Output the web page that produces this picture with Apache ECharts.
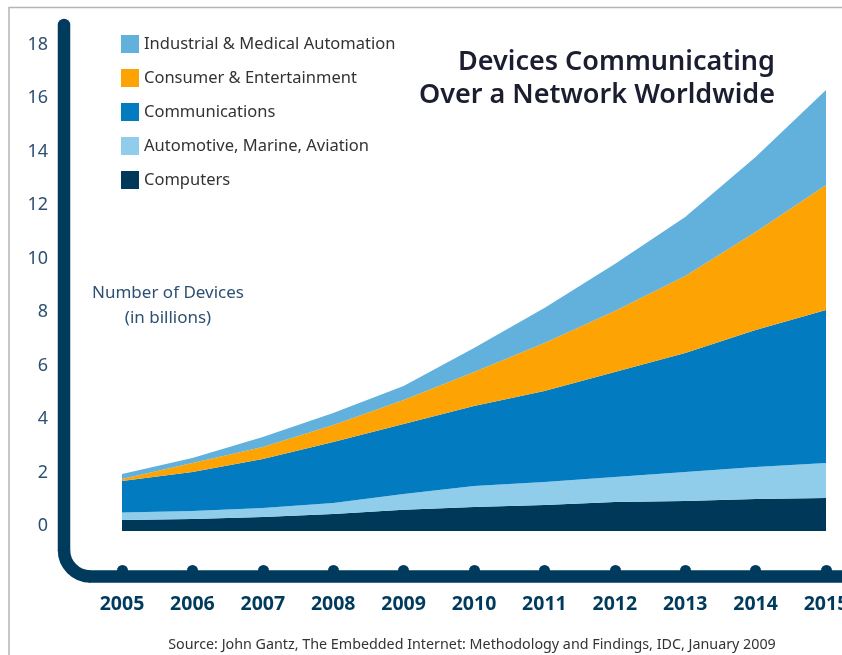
<!DOCTYPE html>
<html>
<head>
<meta charset="utf-8">
<script src="https://cdn.jsdelivr.net/npm/echarts@6/dist/echarts.min.js"></script>
<style>
  html, body { margin: 0; padding: 0; background: #fff; }
  #chart { width: 842px; height: 655px; }
</style>
</head>
<body>
<div id="chart"></div>
<script>
// Years on the horizontal axis
const years = ['2005', '2006', '2007', '2008', '2009', '2010', '2011', '2012', '2013', '2014', '2015'];

// Devices per segment, billions (stacked bottom to top)
const computers     = [0.41, 0.45, 0.52, 0.64, 0.79, 0.90, 0.97, 1.08, 1.12, 1.20, 1.23];
const automotive    = [0.28, 0.30, 0.34, 0.41, 0.59, 0.78, 0.86, 0.94, 1.09, 1.19, 1.31];
const communications= [1.18, 1.46, 1.83, 2.28, 2.62, 2.99, 3.40, 3.92, 4.44, 5.12, 5.72];
const consumer      = [0.07, 0.33, 0.45, 0.63, 0.90, 1.27, 1.80, 2.28, 2.88, 3.67, 4.67];
const industrial    = [0.19, 0.19, 0.37, 0.45, 0.52, 0.90, 1.31, 1.76, 2.21, 2.80, 3.56];

// Value axis ticks
const yMin = -2, yMax = 18, yStep = 2;

const names = {
  industrial: 'Industrial & Medical Automation',
  consumer: 'Consumer & Entertainment',
  communications: 'Communications',
  automotive: 'Automotive, Marine, Aviation',
  computers: 'Computers'
};

const colors = {
  industrial: '#62b0dc',
  consumer: '#fea304',
  communications: '#027bc1',
  automotive: '#8fcdeb',
  computers: '#00385a'
};

const navy = '#003a5d';
const FONT = '"Noto Sans", "Open Sans", sans-serif';

function areaSeries(key, values) {
  return {
    name: names[key],
    type: 'line',
    stack: 'devices',
    data: values,
    symbol: 'none',
    smooth: false,
    lineStyle: { width: 0 },
    itemStyle: { color: colors[key] },
    areaStyle: { color: colors[key], opacity: 1 },
    emphasis: { disabled: true }
  };
}

// Rounded L-shaped frame along the left and bottom edges
const frameStroke = { stroke: navy, lineWidth: 12.5, lineCap: 'round' };
const frame = [
  { type: 'line', silent: true, z: 10, shape: { x1: 64, y1: 25, x2: 64, y2: 550 }, style: frameStroke },
  { type: 'arc', silent: true, z: 10,
    shape: { cx: 90.5, cy: 550, r: 26.5, startAngle: Math.PI / 2, endAngle: Math.PI, clockwise: true },
    style: { stroke: navy, lineWidth: 12.5, fill: 'none' } },
  { type: 'line', silent: true, z: 10, shape: { x1: 90.5, y1: 576.5, x2: 860, y2: 576.5 }, style: frameStroke }
];

const chart = echarts.init(document.getElementById('chart'), null, { renderer: 'canvas' });

chart.setOption({
  animation: false,
  backgroundColor: '#fff',
  textStyle: { fontFamily: FONT },
  grid: { left: 122, right: 16, top: 49.5, bottom: 70.5, containLabel: false, outerBoundsMode: 'none' },
  legend: {
    left: 121,
    top: 35,
    orient: 'vertical',
    padding: 0,
    itemWidth: 18,
    itemHeight: 18,
    itemGap: 16,
    icon: 'rect',
    selectedMode: false,
    data: [names.industrial, names.consumer, names.communications, names.automotive, names.computers],
    textStyle: { fontSize: 16.5, color: '#333', fontFamily: FONT }
  },
  xAxis: {
    type: 'category',
    data: years,
    boundaryGap: false,
    offset: -14,
    axisLine: { show: false, onZero: false },
    axisTick: {
      show: true,
      interval: 0,
      length: 0.5,
      lineStyle: { color: navy, width: 11, cap: 'round' }
    },
    axisLabel: {
      interval: 0,
      margin: 24,
      fontSize: 19.5,
      fontWeight: 'bold',
      color: navy,
      fontFamily: FONT
    },
    splitLine: { show: false }
  },
  yAxis: {
    type: 'value',
    min: yMin,
    max: yMax,
    interval: yStep,
    axisLine: { show: false },
    axisTick: { show: false },
    splitLine: { show: false },
    axisLabel: {
      margin: 74,
      fontSize: 18,
      color: '#2d5072',
      fontFamily: FONT,
      verticalAlign: 'bottom',
      lineHeight: 10,
      formatter: v => (v < 0 ? '' : String(v))
    }
  },
  graphic: [
    {
      type: 'rect',
      silent: true,
      shape: { x: 9, y: 7.5, width: 900, height: 700 },
      style: { fill: 'none', stroke: '#b5b5b5', lineWidth: 1.5 },
      z: -10
    },
    ...frame,
    {
      type: 'text',
      silent: true,
      x: 775,
      y: 45.5,
      style: {
        text: 'Devices Communicating\nOver a Network Worldwide',
        align: 'right',
        verticalAlign: 'top',
        font: '600 27px ' + FONT,
        lineHeight: 33,
        fill: '#1b1d30'
      }
    },
    {
      type: 'text',
      silent: true,
      x: 168,
      y: 281,
      style: {
        text: 'Number of Devices\n(in billions)',
        align: 'center',
        verticalAlign: 'top',
        font: '17px ' + FONT,
        lineHeight: 25,
        fill: '#2d5072'
      }
    },
    {
      type: 'text',
      silent: true,
      x: 472,
      y: 645,
      style: {
        text: 'Source: John Gantz, The Embedded Internet: Methodology and Findings, IDC, January 2009',
        align: 'center',
        verticalAlign: 'middle',
        font: '14.3px ' + FONT,
        fill: '#333'
      }
    }
  ],
  series: [
    areaSeries('computers', computers),
    areaSeries('automotive', automotive),
    areaSeries('communications', communications),
    areaSeries('consumer', consumer),
    areaSeries('industrial', industrial)
  ]
});
</script>
</body>
</html>
